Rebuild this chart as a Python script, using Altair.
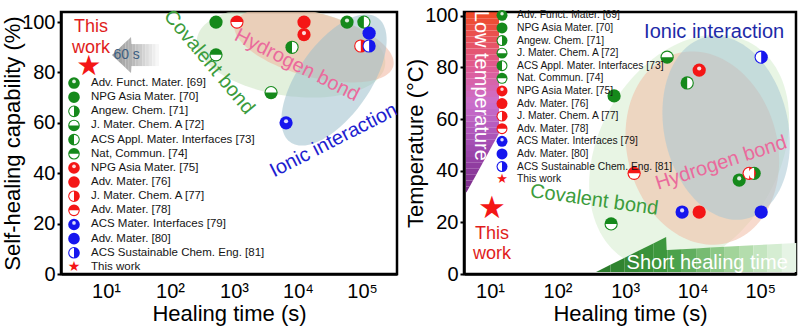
import math
import pandas as pd
import altair as alt

FONT = "Liberation Sans"

# ---------------- data ----------------
ref_keys = ["69", "70", "71", "72", "73", "74", "75", "76", "77", "78", "79", "80", "81", "This work"]
ref_labels_left = ["Adv. Funct. Mater. [69]", "NPG Asia Mater. [70]", "Angew. Chem. [71]",
                   "J. Mater. Chem. A [72]", "ACS Appl. Mater. Interfaces [73]", "Nat, Commun. [74]",
                   "NPG Asia Mater. [75]", "Adv. Mater. [76]", "J. Mater. Chem. A [77]", "Adv. Mater. [78]",
                   "ACS Mater. Interfaces [79]", "Adv. Mater. [80]", "ACS Sustainable Chem. Eng. [81]",
                   "This work"]
ref_labels_right = ["Adv. Funct. Mater. [69]", "NPG Asia Mater. [70]", "Angew. Chem. [71]",
                    "J. Mater. Chem. A [72]", "ACS Appl. Mater. Interfaces [73]", "Nat. Commun. [74]",
                    "NPG Asia Mater. [75]", "Adv. Mater. [76]", "J. Mater. Chem. A [77]", "Adv. Mater. [78]",
                    "ACS Mater. Interfaces [79]", "Adv. Mater. [80]", "ACS Sustainable Chem. Eng. [81]",
                    "This work"]
ref_colors = ["green"] * 6 + ["red"] * 4 + ["blue"] * 3 + ["red"]
# which half of the marker is coloured (the other half is white)
ref_kinds = ["shiny", "full", "right", "bottom", "left", "top",
             "shiny", "full", "right", "top",
             "shiny", "full", "right", "star"]

left_ref = ["70", "78", "76", "75", "73", "69", "73", "80", "77", "81", "74", "72", "79", "This work"]
left_time = [523, 1110, 12400, 12400, 8060, 58300, 107000, 129000, 95700, 129000, 523, 3790, 6500, 5.4]
left_heal = [100, 100, 100, 95, 90, 100, 100, 95.6, 90.5, 90.5, 87, 72, 60, 82]

right_ref = ["72", "81", "75", "73", "70", "78", "69", "71", "77", "79", "76", "80", "74", "This work"]
right_time = [4190, 103500, 12500, 8300, 687, 1360, 48900, 81400, 68700, 6980, 12500, 103500, 621, 10.7]
right_temp = [84, 84, 79, 74, 69, 39, 36.4, 39, 39, 24, 24, 24, 19.4, 25]

x_ticks = [10, 100, 1000, 10000, 100000]
y_ticks = [0, 20, 40, 60, 80, 100]

# ---------------- styles / helpers ----------------
CSCALE = alt.Scale(domain=["green", "red", "blue"], range=["#15891b", "#f41616", "#1616ee"])
PI = math.pi
# white half (theta, theta2 in radians, 0 = north, clockwise) for each coloured half
WHITE_ARC = {"right": (PI, 2 * PI), "left": (0, PI), "top": (PI / 2, 3 * PI / 2), "bottom": (3 * PI / 2, 5 * PI / 2)}

LABEL_EXPR = ("datum.value == 10 ? '10\u00b9' : datum.value == 100 ? '10\u00b2' : "
              "datum.value == 1000 ? '10\u00b3' : datum.value == 10000 ? '10\u2074' : '10\u2075'")


def hex2rgb(h):
    return [int(h[i:i + 2], 16) for i in (1, 3, 5)]


def mix(stops, f):
    for (o0, c0), (o1, c1) in zip(stops[:-1], stops[1:]):
        if o0 <= f <= o1:
            t = 0 if o1 == o0 else (f - o0) / (o1 - o0)
            a, b = hex2rgb(c0), hex2rgb(c1)
            return "#" + "".join(f"{round(a[i] + (b[i] - a[i]) * t):02x}" for i in range(3))
    return stops[-1][1]


def interp(pts, u):
    for (u0, *a), (u1, *b) in zip(pts[:-1], pts[1:]):
        if u0 <= u <= u1:
            t = 0 if u1 == u0 else (u - u0) / (u1 - u0)
            return [a[i] + (b[i] - a[i]) * t for i in range(len(a))]
    return pts[-1][1:]


def ellipse_df(cx, cy, a, b, deg, P, n=60):
    th = math.radians(deg)
    c, s = math.cos(th), math.sin(th)
    A = s * s / a ** 2 + c * c / b ** 2
    umax = math.sqrt(a * a * c * c + b * b * s * s)
    rows = []
    for i in range(n + 1):
        u = -umax * math.cos(PI * i / n)
        B = 2 * u * s * c * (1 / a ** 2 - 1 / b ** 2)
        C = u * u * (c * c / a ** 2 + s * s / b ** 2) - 1
        d = math.sqrt(max(B * B - 4 * A * C, 0))
        v1, v2 = (-B - d) / (2 * A), (-B + d) / (2 * A)
        x = 10 ** (math.log10(cx) + u / P["ppd"])
        x = min(max(x, P["xdom"][0]), P["xdom"][1])
        ya = min(max(cy - v1 / P["ppu"], 0), P["ydom"][1])
        yb = min(max(cy - v2 / P["ppu"], 0), P["ydom"][1])
        rows.append({"x": x, "y": ya, "y2": yb})
    return pd.DataFrame(rows)


def band_df(ax, ay, pts, stops, P, nseg=14):
    """piecewise-linear shape split into vertical colour slices (horizontal fake gradient).
    pts: (u, top, bottom) in px offsets from anchor."""
    s0, s1 = pts[0][0], pts[-1][0]
    rows, segs, cols = [], [], []
    for k in range(nseg):
        a = s0 + (s1 - s0) * k / nseg
        b = s0 + (s1 - s0) * (k + 1) / nseg
        ss = [a] + [p[0] for p in pts if a < p[0] < b] + [b]
        sid = f"s{k:02d}"
        segs.append(sid)
        cols.append(mix(stops, (k + 0.5) / nseg))
        for sv in ss:
            lo, hi = interp(pts, sv)
            rows.append({"seg": sid, "x": ax * 10 ** (sv / P["ppd"]), "y": ay - lo / P["ppu"], "y2": ay - hi / P["ppu"]})
    return pd.DataFrame(rows), segs, cols


def vband_df(ax, ay, edge, stops, P, per=5):
    """shape with left edge at the anchor and right edge given by (v, u) points,
    split into horizontal colour bands (vertical fake gradient)."""
    vmax = edge[-1][0]
    rows, segs, cols = [], [], []
    k = 0
    for (va, ua), (vb, ub) in zip(edge[:-1], edge[1:]):
        nb = max(2, round(per * (vb - va) / 30))
        for j in range(nb):
            a = va + (vb - va) * j / nb
            b = va + (vb - va) * (j + 1) / nb
            u_a = ua + (ub - ua) * j / nb
            u_b = ua + (ub - ua) * (j + 1) / nb
            sid = f"v{k:02d}"
            k += 1
            segs.append(sid)
            cols.append(mix(stops, (a + b) / 2 / vmax))
            pts = [(0, a, b)]
            if u_b < u_a - 1e-6:
                pts += [(u_b, a, b), (u_a, a, a)]
            else:
                pts += [(u_a, a, b)]
            for u, lo, hi in pts:
                rows.append({"seg": sid, "x": ax * 10 ** (u / P["ppd"]), "y": ay - lo / P["ppu"], "y2": ay - hi / P["ppu"]})
    return pd.DataFrame(rows), segs, cols


def items(keys, xs, ys, ppu):
    rows = []
    for k, x, y in zip(keys, xs, ys):
        i = ref_keys.index(k)
        rows.append(dict(x=x, y=y, yh=y + 1.6 / ppu, col=ref_colors[i], kind=ref_kinds[i]))
    return pd.DataFrame(rows)


def symbol_layers(df, X, Y, size, star_size):
    col = alt.Color("col:N", scale=CSCALE, legend=None)
    r = math.sqrt(size) / 2
    discs = df[df.kind != "star"]
    layers = [
        alt.Chart(discs).mark_point(shape="circle", filled=True, opacity=1, size=size, strokeWidth=0)
        .encode(x=X, y=Y, color=col),
        alt.Chart(df[df.kind == "shiny"]).mark_point(shape="circle", filled=True, opacity=0.85,
                                                    size=size * 0.1, strokeWidth=0, color="white")
        .encode(x=X, y=alt.Y("yh:Q")),
        alt.Chart(df[df.kind == "star"]).mark_text(text="\u2605", font="DejaVu Sans", fontSize=star_size,
                                                   color="#f41616", baseline="middle", align="center")
        .encode(x=X, y=Y),
    ]
    for kind, (t0, t1) in WHITE_ARC.items():
        sub = df[df.kind == kind]
        if len(sub):
            layers.append(alt.Chart(sub).mark_arc(theta=t0, theta2=t1, radius=r - 1.1, color="white",
                                                  opacity=1, strokeWidth=0).encode(x=X, y=Y))
    return layers


def panel(cfg):
    P = cfg
    X = alt.X("x:Q", scale=alt.Scale(type="log", domain=cfg["xdom"], nice=False),
              axis=alt.Axis(values=x_ticks, labelExpr=LABEL_EXPR, title="Healing time (s)",
                            ticks=False, labelPadding=7, grid=False, titlePadding=2))
    Y = alt.Y("y:Q", stack=None, scale=alt.Scale(domain=cfg["ydom"], nice=False, zero=False),
              axis=alt.Axis(values=y_ticks, title=cfg["ytitle"], tickSize=4, tickWidth=2,
                            labelPadding=2, grid=False, titlePadding=-3))
    layers = []
    for e in cfg["ellipses"]:
        edf = ellipse_df(e["x"], e["y"], e["a"], e["b"], e["deg"], P)
        layers.append(alt.Chart(edf).mark_area(color=e["fill"], opacity=e["op"], line=False)
                      .encode(x=X, y=Y, y2="y2:Q"))
    for d in cfg["shapes"]:
        if d["kind"] == "vband":
            ddf, segs, cols = vband_df(d["x"], d["y"], d["edge"], d["stops"], P)
        else:
            ddf, segs, cols = band_df(d["x"], d["y"], d["pts"], d["stops"], P)
        color = alt.Color("seg:N", scale=alt.Scale(domain=segs, range=cols), legend=None)
        layers.append(alt.Chart(ddf).mark_area(opacity=d["op"], line=False)
                      .encode(x=X, y=Y, y2="y2:Q", color=color))
    for t in cfg["notes"]:
        layers.append(alt.Chart(pd.DataFrame([{"x": t["x"], "y": t["y"], "t": t["text"]}])).mark_text(
            font=FONT, align="center", baseline="middle", angle=t["angle"], color=t["color"],
            fontSize=t["fs"]).encode(x=X, y=Y, text="t:N"))
    pts = items(cfg["keys"], cfg["xs"], cfg["ys"], P["ppu"])
    layers += symbol_layers(pts, X, Y, cfg["psize"], cfg["pstar"])
    n = len(ref_keys)
    ly = [cfg["leg_y0"] - i * cfg["leg_dy"] for i in range(n)]
    leg = items(ref_keys, [cfg["leg_x"]] * n, ly, P["ppu"])
    layers += symbol_layers(leg, X, Y, cfg["lsize"], cfg["lstar"])
    ltxt = pd.DataFrame({"x": [cfg["leg_tx"]] * n, "y": ly, "label": cfg["labels"]})
    layers.append(alt.Chart(ltxt).mark_text(font=FONT, align="left", baseline="middle",
                                            fontSize=cfg["lfs"], color="#151515")
                  .encode(x=X, y=Y, text="label:N"))
    return alt.layer(*layers).resolve_scale(color="independent").properties(width=cfg["w"], height=262)


left_cfg = dict(
    xdom=[1.98, 352000], ydom=[0, 104], ppd=64, ppu=2.52, ytitle="Self-healing capability (%)", w=336,
    keys=left_ref, xs=left_time, ys=left_heal, psize=175, pstar=28,
    leg_x=3.16, leg_tx=5.83, leg_y0=75.8, leg_dy=5.615, lsize=135, lstar=14, lfs=11.5,
    labels=ref_labels_left,
    ellipses=[
        {"x": 7770, "y": 88.1, "a": 95, "b": 44, "deg": 8, "fill": "#cfe6c4", "op": 0.6},
        {"x": 17800, "y": 90.9, "a": 82, "b": 32, "deg": 15, "fill": "#f0b49c", "op": 0.55},
        {"x": 36500, "y": 77.0, "a": 76, "b": 36, "deg": -55, "fill": "#9cbfcc", "op": 0.55},
    ],
    shapes=[
        {"kind": "hband", "x": 12.4, "y": 86.9, "op": 0.9,
         "pts": [(0, 0, 0), (19, -18, 18), (19.5, -11, 11), (47, -11, 11)],
         "stops": [(0, "#8c8c8c"), (0.45, "#b0b0b0"), (1, "#fbfbfb")]},
    ],
    notes=[
        {"text": "This", "x": 5.83, "y": 98.0, "angle": 0, "color": "#e01c1c", "fs": 18},
        {"text": "work", "x": 5.83, "y": 89.7, "angle": 0, "color": "#e01c1c", "fs": 18},
        {"text": "60 s", "x": 21.0, "y": 86.9, "angle": 0, "color": "#3d5f82", "fs": 14},
        {"text": "Covalent bond", "x": 406, "y": 84.1, "angle": 50, "color": "#3c9c3c", "fs": 20},
        {"text": "Hydrogen bond", "x": 9640, "y": 82.9, "angle": 27, "color": "#ea6a9c", "fs": 20},
        {"text": "Ionic interaction", "x": 36000, "y": 53.0, "angle": 333, "color": "#1e1ed0", "fs": 20},
    ],
)

right_cfg = dict(
    xdom=[4.12, 339000], ydom=[0, 101.5], ppd=67.5, ppu=2.58, ytitle="Temperature (\u00b0C)", w=332,
    keys=right_ref, xs=right_time, ys=right_temp, psize=175, pstar=31,
    leg_x=15.06, leg_tx=25.1, leg_y0=100.2, leg_dy=4.88, lsize=120, lstar=13, lfs=10.3,
    labels=ref_labels_right,
    ellipses=[
        {"x": 8870, "y": 47.3, "a": 125, "b": 90, "deg": -60, "fill": "#dcefd6", "op": 0.65},
        {"x": 13900, "y": 48.8, "a": 75, "b": 98, "deg": -15, "fill": "#f0bca4", "op": 0.55},
        {"x": 31300, "y": 56.6, "a": 62, "b": 93, "deg": -12, "fill": "#a8c6d4", "op": 0.55},
    ],
    shapes=[
        {"kind": "vband", "x": 4.41, "y": 101.4, "op": 1,
         "edge": [(0, 33), (121, 33), (180, 0.5)],
         "stops": [(0, "#f04a24"), (0.3, "#e05a90"), (0.5, "#cc70cc"), (0.75, "#a04ab0"), (1, "#7a2a88")]},
        {"kind": "hband", "x": 372, "y": 0.78, "op": 1,
         "pts": [(0, 0, 0), (70, -35, 0), (70.5, -22, 0), (200, -29, 0)],
         "stops": [(0, "#2a7a2a"), (0.35, "#3f9a3f"), (0.7, "#a8d8a0"), (1, "#eef8ee")]},
    ],
    notes=[
        {"text": "Low temperature", "x": 7.36, "y": 72.9, "angle": 90, "color": "#ffffff", "fs": 20},
        {"text": "Short healing time", "x": 16400, "y": 4.3, "angle": 0, "color": "#ffffff", "fs": 20},
        {"text": "This", "x": 10.7, "y": 15.5, "angle": 0, "color": "#e01c1c", "fs": 18},
        {"text": "work", "x": 10.7, "y": 7.75, "angle": 0, "color": "#e01c1c", "fs": 18},
        {"text": "Ionic interaction", "x": 20800, "y": 93.8, "angle": 0, "color": "#1d2aa8", "fs": 20},
        {"text": "Hydrogen bond", "x": 26400, "y": 43.0, "angle": 342, "color": "#ea6a9c", "fs": 20},
        {"text": "Covalent bond", "x": 348, "y": 28.7, "angle": 8, "color": "#3c9c3c", "fs": 20},
    ],
)

chart = alt.hconcat(panel(left_cfg), panel(right_cfg), spacing=67, bounds="flush").properties(
    padding={"left": 0, "top": 4, "right": 0, "bottom": 0}
).configure_view(stroke="black", strokeWidth=2.5).configure_axis(
    labelFont=FONT, titleFont=FONT, labelFontSize=20, titleFontSize=22, titleFontWeight="normal",
    labelColor="black", titleColor="black", domainColor="black", domainWidth=2.5, tickColor="black"
)

chart.save("out.html", embed_options={"renderer": "svg", "actions": False})
